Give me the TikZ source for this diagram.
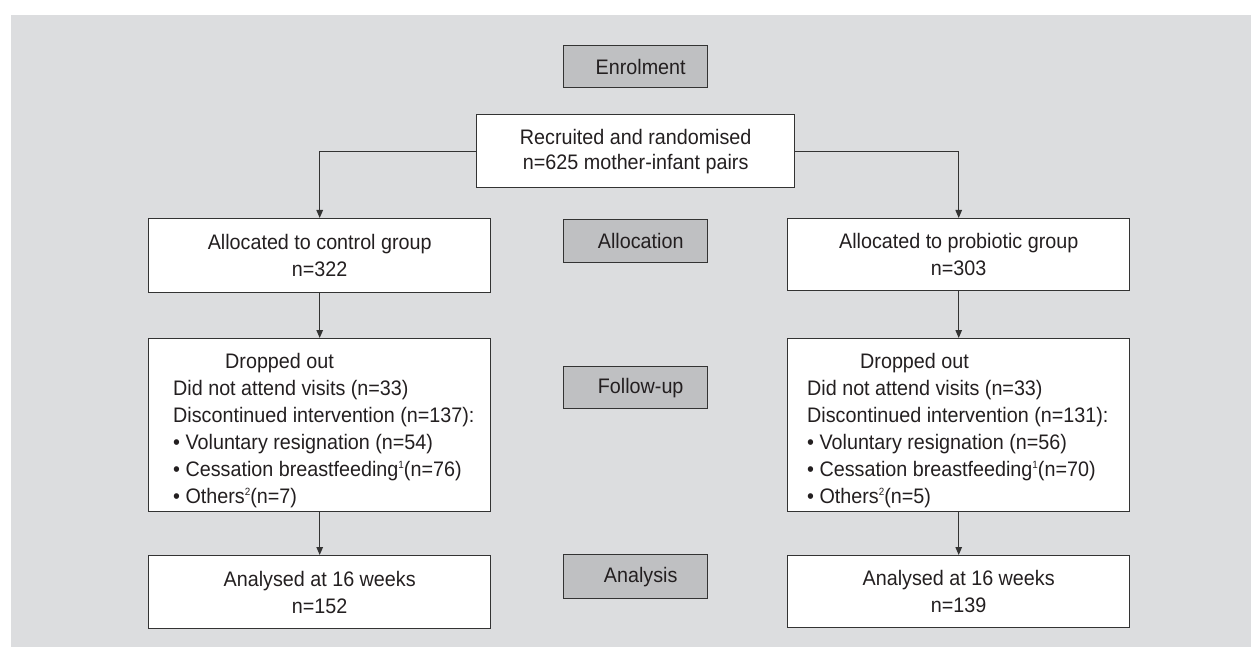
\documentclass[tikz,border=0pt]{standalone}
\usepackage{fontspec}
\setmainfont{Liberation Sans}[FakeStretch=0.94]
\usetikzlibrary{arrows.meta}
\definecolor{bgc}{HTML}{DCDDDF}
\definecolor{lblc}{HTML}{BFC0C2}
\definecolor{bordc}{HTML}{333333}
\definecolor{txtc}{HTML}{231F20}
\newcommand\mysup[1]{\raisebox{7.5pt}{\fontsize{10.5}{10.5}\selectfont #1}}
\begin{document}
\begin{tikzpicture}[x=1pt,y=-1pt,
  box/.style={draw=bordc, fill=white, line width=1.4pt, inner sep=0pt, anchor=north west, align=center, text=txtc, font=\fontsize{21}{27}\selectfont},
  lbl/.style={draw=bordc, fill=lblc, line width=1.4pt, inner sep=0pt, anchor=north west, align=center, text=txtc, font=\fontsize{21}{24}\selectfont, minimum width=144pt},
  txt/.style={inner sep=0pt, anchor=north west, align=left, text=txtc, font=\fontsize{21}{27}\selectfont},
  conn/.style={draw=bordc, line width=1.2pt, -{Triangle[length=8pt,width=6.5pt]}}
]
\useasboundingbox (0,0) rectangle (1251,647);
\fill[bgc] (11,15) rectangle (1251,647);

% stage labels
\node[lbl, minimum height=42pt] (enrol) at (563,45) {\hspace*{10pt}Enrolment};
\node[lbl, minimum height=43pt] (alloc) at (563,219) {\hspace*{10pt}Allocation};
\node[lbl, minimum height=42pt] (follow) at (563,366) {\hspace*{10pt}Follow-up};
\node[lbl, minimum height=44pt] (analysis) at (563,554) {\hspace*{10pt}Analysis};

% main boxes
\node[box, minimum width=318pt, minimum height=73pt, font=\fontsize{21}{25}\selectfont] (rec) at (476,114) {Recruited and randomised\\n=625 mother-infant pairs};
\node[box, minimum width=342pt, minimum height=74pt] (ctrl) at (148,218) {Allocated to control group\\n=322};
\node[box, minimum width=342pt, minimum height=72pt] (prob) at (787,218) {Allocated to probiotic group\\n=303};
\node[box, minimum width=342pt, minimum height=173pt] (dropL) at (148,338) {};
\node[box, minimum width=342pt, minimum height=173pt] (dropR) at (787,338) {};
\node[box, minimum width=342pt, minimum height=73pt] (anL) at (148,555) {Analysed at 16 weeks\\n=152};
\node[box, minimum width=342pt, minimum height=72pt] (anR) at (787,555) {Analysed at 16 weeks\\n=139};

% dropped-out texts
\node[txt] (dropLt) at (173,353) {\hspace*{52pt}Dropped out\\
Did not attend visits (n=33)\\
Discontinued intervention (n=137):\\
\textbullet\ Voluntary resignation (n=54)\\
\textbullet\ Cessation breastfeeding\mysup{1}(n=76)\\
\textbullet\ Others\mysup{2}(n=7)};
\node[txt] (dropRt) at (807,353) {\hspace*{53pt}Dropped out\\
Did not attend visits (n=33)\\
Discontinued intervention (n=131):\\
\textbullet\ Voluntary resignation (n=56)\\
\textbullet\ Cessation breastfeeding\mysup{1}(n=70)\\
\textbullet\ Others\mysup{2}(n=5)};

% connectors
\draw[conn] (rec.west) -| (ctrl.north);
\draw[conn] (rec.east) -| (prob.north);
\draw[conn] (ctrl.south) -- (dropL.north);
\draw[conn] (prob.south) -- (dropR.north);
\draw[conn] (dropL.south) -- (anL.north);
\draw[conn] (dropR.south) -- (anR.north);
\end{tikzpicture}
\end{document}
